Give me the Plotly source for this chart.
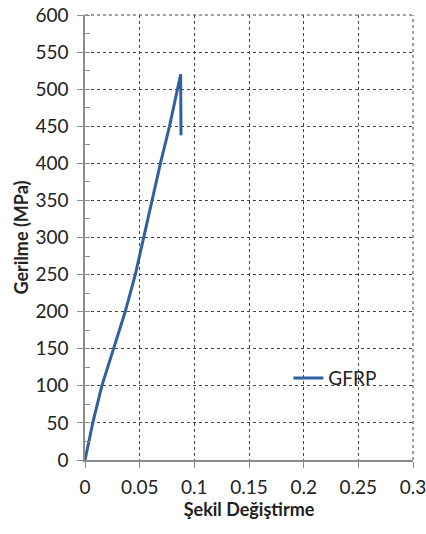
import plotly.graph_objects as go

strain = [0, 0.0071, 0.0154, 0.0261, 0.0368, 0.046, 0.0535, 0.0614, 0.069, 0.0773, 0.0844, 0.0875, 0.0878]
stress = [0, 50, 100, 150, 200, 250, 300, 350, 400, 450, 500, 520, 438]
series_name = "GFRP"
x_ticks = [0, 0.05, 0.1, 0.15, 0.2, 0.25, 0.3]
x_tick_labels = ["0", "0.05", "0.1", "0.15", "0.2", "0.25", "0.3"]
y_ticks = list(range(0, 601, 50))

font_family = "Lato, 'Open Sans', sans-serif"
grid_color = "#444"

fig = go.Figure()
fig.add_trace(go.Scatter(
    x=strain, y=stress, mode="lines", name=series_name,
    line=dict(color="#30609E", width=3),
))

# white box behind the legend hiding the grid
fig.add_shape(type="rect", xref="paper", yref="paper",
              x0=0.573, x1=0.936, y0=0.07, y1=0.31,
              fillcolor="white", line=dict(width=0), layer="between")
# dotted frame on top and right edges
fig.add_shape(type="line", xref="paper", yref="paper", x0=0, x1=1, y0=1, y1=1,
              line=dict(color=grid_color, width=1, dash="dot"), layer="between")
fig.add_shape(type="line", xref="paper", yref="paper", x0=1, x1=1, y0=0, y1=1,
              line=dict(color=grid_color, width=1, dash="dot"), layer="between")

fig.update_layout(
    width=426, height=534,
    margin=dict(l=85, r=13, t=15, b=74),
    paper_bgcolor="white", plot_bgcolor="white",
    font=dict(family=font_family, color="#222", size=19),
    showlegend=True,
    legend=dict(
        x=0.62, y=0.184, xanchor="left", yanchor="middle",
        bgcolor="rgba(0,0,0,0)", borderwidth=0,
        font=dict(size=19, color="#222"),
        itemwidth=30,
    ),
)

fig.update_xaxes(
    range=[0, 0.3], tickvals=x_ticks, ticktext=x_tick_labels,
    automargin=False, ticklabeloverflow="allow",
    showline=True, linecolor="#8c8c8c", linewidth=1.5,
    ticks="outside", ticklen=6, tickcolor="#8c8c8c",
    ticklabelstandoff=3,
    showgrid=True, gridcolor=grid_color, griddash="dot", gridwidth=1,
    zeroline=False,
    title=dict(text="<b>Şekil Değiştirme</b>", font=dict(size=18, color="#222"), standoff=5),
)
fig.update_yaxes(
    range=[0, 600], tickvals=y_ticks,
    automargin=False, ticklabeloverflow="allow",
    showline=True, linecolor="#8c8c8c", linewidth=1.5,
    ticks="outside", ticklen=6, tickcolor="#8c8c8c",
    ticklabelstandoff=5,
    minor=dict(ticks="inside", dtick=25, ticklen=5, tickcolor="#8c8c8c", showgrid=False),
    showgrid=True, gridcolor=grid_color, griddash="dot", gridwidth=1,
    zeroline=False,
    title=dict(text="<b>Gerilme (MPa)</b>", font=dict(size=18, color="#222"), standoff=2),
)

fig.write_html(
    "out.html",
    config={"displayModeBar": False},
    post_script="document.body.style.margin='0px'; document.body.style.overflow='hidden';",
)
